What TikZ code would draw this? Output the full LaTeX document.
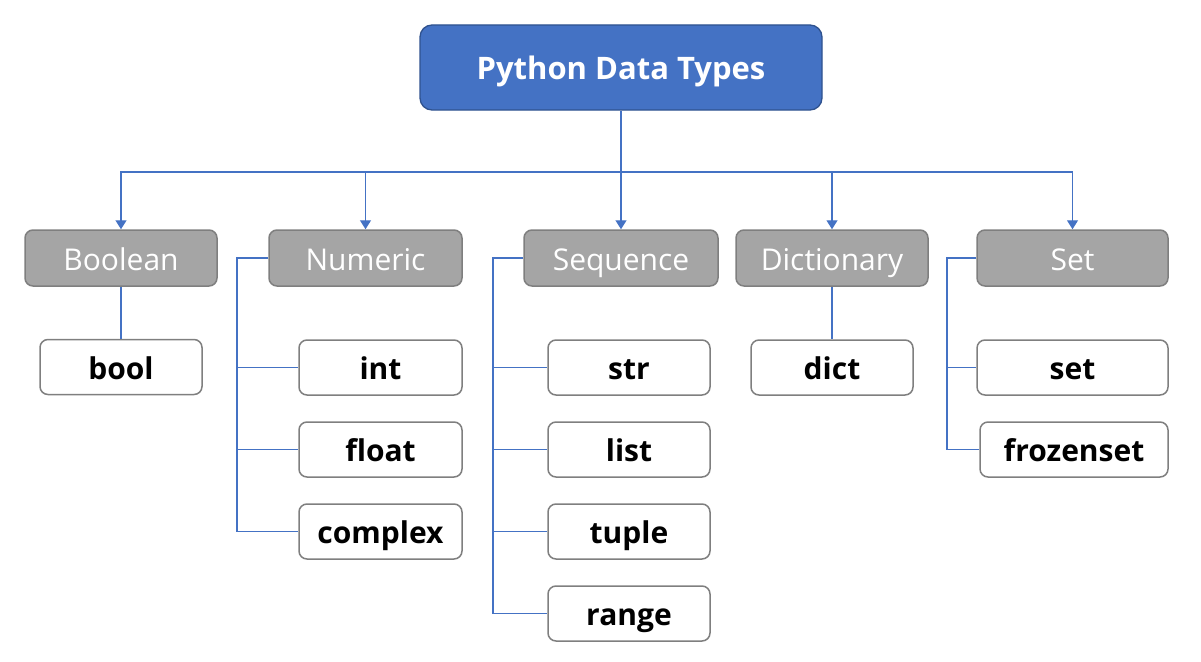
\documentclass[tikz,border=0pt]{standalone}
\usepackage{fontspec}
\setmainfont{Open Sans}
\usetikzlibrary{arrows.meta}
\definecolor{tblue}{HTML}{4472C4}
\definecolor{tblueb}{HTML}{2F528F}
\definecolor{cgray}{HTML}{A5A5A5}
\definecolor{cgrayb}{HTML}{7F7F7F}
\tikzset{
  titlebox/.style={draw=tblueb, line width=1.3pt, fill=tblue, rounded corners=12pt, text=white,
    minimum width=402pt, minimum height=85pt, text height=28pt, text depth=4pt,
    font=\fontsize{31}{36}\selectfont\bfseries},
  catbox/.style={draw=cgrayb, line width=1.5pt, fill=cgray, rounded corners=8pt, text=white,
    minimum width=192pt, minimum height=56pt, text height=28pt, text depth=4pt,
    font=\fontsize{30}{35}\selectfont},
  leafbox/.style={draw=cgrayb, line width=1.5pt, fill=white, rounded corners=8pt, text=black,
    minimum width=162pt, minimum height=55pt, text height=28pt, text depth=4pt,
    font=\fontsize{30}{35}\selectfont\bfseries},
  conn/.style={draw=tblue, line width=1.3pt},
  arr/.style={conn, -{Triangle[width=11pt,length=9pt]}}
}
\begin{document}
\begin{tikzpicture}[x=1pt,y=-1pt]
\useasboundingbox (0,0) rectangle (1201,661);
\node[titlebox] (root) at (621,67.5) {Python Data Types};
\node[catbox] (bool) at (121,258) {Boolean};
\node[catbox, minimum width=193pt] (num) at (365.5,258) {Numeric};
\node[catbox, minimum width=194pt] (seq) at (621,258) {Sequence};
\node[catbox] (dic) at (832,258) {Dictionary};
\node[catbox, minimum width=191pt] (set) at (1072.5,258) {Set};
\node[leafbox] (lbool) at (121,367) {bool};
\node[leafbox, minimum width=163pt] (lint) at (380.5,367.5) {int};
\node[leafbox, minimum width=163pt] (lfloat) at (380.5,449.5) {float};
\node[leafbox, minimum width=163pt] (lcomplex) at (380.5,531.5) {complex};
\node[leafbox] (lstr) at (629,367.5) {str};
\node[leafbox] (llist) at (629,449.5) {list};
\node[leafbox] (ltuple) at (629,531.5) {tuple};
\node[leafbox] (lrange) at (629,613.5) {range};
\node[leafbox] (ldict) at (832,367.5) {dict};
\node[leafbox, minimum width=191pt] (lset) at (1072.5,367.5) {set};
\node[leafbox, minimum width=188pt] (lfrozen) at (1074,449.5) {frozenset};
\coordinate (hub) at (621,172);
\draw[conn] (root.south) -- (hub);
\draw[arr] (hub) -| (bool.north);
\draw[arr] (hub) -| (num.north);
\draw[arr] (hub) -- (seq.north);
\draw[arr] (hub) -| (dic.north);
\draw[arr] (hub) -| (set.north);
\draw[conn] (bool.south) -- (lbool.north);
\draw[conn] (dic.south) -- (ldict.north);
\coordinate (nx) at (237,0);
\coordinate (sx) at (493,0);
\coordinate (tx) at (947,0);
\draw[conn] (num.west) -- (num.west -| nx) |- (lcomplex.west);
\draw[conn] (num.west -| nx) |- (lint.west);
\draw[conn] (num.west -| nx) |- (lfloat.west);
\draw[conn] (seq.west) -- (seq.west -| sx) |- (lrange.west);
\draw[conn] (seq.west -| sx) |- (lstr.west);
\draw[conn] (seq.west -| sx) |- (llist.west);
\draw[conn] (seq.west -| sx) |- (ltuple.west);
\draw[conn] (set.west) -- (set.west -| tx) |- (lfrozen.west);
\draw[conn] (set.west -| tx) |- (lset.west);
\end{tikzpicture}
\end{document}
